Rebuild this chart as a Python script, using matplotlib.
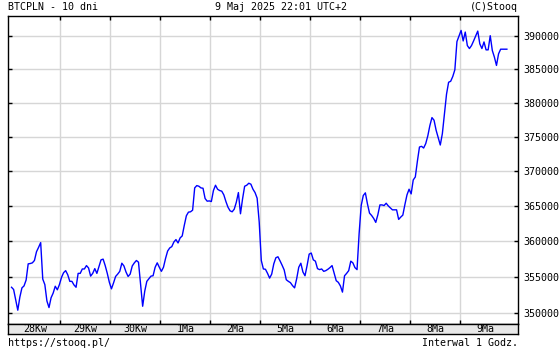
import numpy as np
import matplotlib
matplotlib.use("Agg")
import matplotlib.pyplot as plt
from matplotlib.ticker import FixedLocator, FixedFormatter, NullLocator

# ---- data (hourly close, BTCPLN, 28 Apr - 9 May 2025) ----
prices = [
    353600, 353290, 351890, 350450, 352250, 353515, 353785, 354595, 356840, 356890,
    356980, 357310, 358540, 359150, 359810, 354730, 353965, 351710, 350810, 352160,
    352795, 353740, 353245, 353965, 354955, 355610, 355900, 355330, 354415, 354415,
    353920, 353600, 355520, 355520, 356130, 356130, 356600, 356270, 355140, 355520,
    356180, 355520, 356460, 357400, 357500, 356600, 355520, 354280, 353380, 354190,
    355090, 355420, 355800, 356930, 356550, 355710, 355090, 355420, 356550, 356980,
    357310, 357070, 354055, 350990, 353060, 354415, 354775, 355140, 355190, 356370,
    356980, 356370, 355800, 356370, 357600, 358630, 359060, 359250, 359900, 360235,
    359760, 360470, 360750, 362240, 363600, 364110, 364160, 364390, 367570, 367900,
    367810, 367570, 367520, 366050, 365670, 365710, 365620, 367190, 367950, 367380,
    367190, 367100, 366570, 365620, 364810, 364300, 364160, 364530, 365520, 366900,
    363880, 366000, 367810, 367950, 368240, 368100, 367380, 366900, 366100, 362700,
    357310, 356130, 356090, 355520, 354865, 355420, 356840, 357690, 357830, 357260,
    356650, 355990, 354640, 354415, 354235, 353830, 353515, 354775, 356370, 356930,
    355710, 355190, 356600, 358200, 358350, 357400, 357215, 356180, 356040, 356130,
    355800, 355900, 356090, 356320, 356600, 355560, 354505, 354280, 353785, 352930,
    355190, 355520, 355900, 357215, 356980, 356320, 356040, 361075, 365050, 366480,
    366860, 365290, 363970, 363640, 363220, 362660, 363740, 365140, 365140, 365050,
    365380, 365000, 364720, 364440, 364440, 364440, 363080, 363410, 363690, 365190,
    366570, 367380, 366710, 368710, 369140, 371420, 373480, 373580, 373330, 373970,
    375100, 376620, 377790, 377400, 375930, 374850, 373770, 375440, 378280, 381260,
    383030, 383180, 383890, 384900, 389150, 390000, 390850, 389250, 390600, 388550,
    388100, 388550, 389250, 390000, 390750, 388800, 388100, 389100, 387900, 387900,
    390050, 387800, 386800, 385550, 387300, 388000, 388000, 388000, 388000,
]
day_labels = ["28Kw", "29Kw", "30Kw", "1Ma", "2Ma", "5Ma", "6Ma", "7Ma", "8Ma", "9Ma"]
y_ticks = [350000, 355000, 360000, 365000, 370000, 375000, 380000, 385000, 390000]
title_left = "BTCPLN - 10 dni"
title_mid = "9 Maj 2025 22:01 UTC+2"
title_right = "(C)Stooq"
foot_left = "https://stooq.pl/"
foot_right = "Interwal 1 Godz."

FONT = "DejaVu Sans Mono"
FS = 7.2
W, H = 560, 350

hours = np.arange(len(prices)) + 0.5
n_days = len(day_labels)

fig = plt.figure(figsize=(W / 100, H / 100), dpi=100)
fig.patch.set_facecolor("white")

L, R, T, B = 7.5, 518, 16, 323.5
ax = fig.add_axes([L / W, 1 - B / H, (R - L) / W, (B - T) / H])
ax.set_yscale("log")
ax.set_xlim(-1.44, 243.84)
ax.set_ylim(348637, 393056)

for d in range(1, n_days):
    ax.axvline(d * 24, color="#d6d6d6", lw=1.0, zorder=1)
for v in y_ticks:
    ax.axhline(v, color="#d6d6d6", lw=1.0, zorder=1)

ax.plot(hours, prices, color="#0000ff", lw=1.0, zorder=3)

ax.yaxis.set_major_locator(FixedLocator(y_ticks))
ax.yaxis.set_major_formatter(FixedFormatter([str(v) for v in y_ticks]))
ax.yaxis.set_minor_locator(NullLocator())
ax.tick_params(axis="y", which="both", direction="in", length=3, width=1,
               left=True, right=True, labelleft=False, labelright=True,
               labelsize=FS, pad=4, colors="black")
for lab in ax.get_yticklabels():
    lab.set_fontfamily(FONT)

ax.xaxis.set_major_locator(FixedLocator([d * 24 for d in range(1, n_days)]))
ax.tick_params(axis="x", which="both", direction="in", length=3, width=1,
               top=True, bottom=True, labelbottom=False)
for s in ax.spines.values():
    s.set_color("black")
    s.set_linewidth(1.0)

# date band
bax = fig.add_axes([L / W, 1 - 334 / H, (R - L) / W, (334 - B) / H])
bax.set_facecolor("#e8e8e8")
bax.set_xlim(ax.get_xlim())
bax.set_ylim(0, 1)
bax.set_xticks([])
bax.set_yticks([])
for s in bax.spines.values():
    s.set_color("black")
    s.set_linewidth(1.0)
for d, lab in enumerate(day_labels):
    bax.text(d * 24 + 12, 0.45, lab, ha="center", va="center",
             fontsize=FS, fontfamily=FONT)

# header / footer
fig.text(8 / W, 1 - 7 / H, title_left, ha="left", va="center", fontsize=FS, fontfamily=FONT)
fig.text(281 / W, 1 - 7 / H, title_mid, ha="center", va="center", fontsize=FS, fontfamily=FONT)
fig.text(518 / W, 1 - 7 / H, title_right, ha="right", va="center", fontsize=FS, fontfamily=FONT)
fig.text(8 / W, 1 - 343 / H, foot_left, ha="left", va="center", fontsize=FS, fontfamily=FONT)
fig.text(518 / W, 1 - 343 / H, foot_right, ha="right", va="center", fontsize=FS, fontfamily=FONT)

fig.savefig("out.png", dpi=100, facecolor="white")
